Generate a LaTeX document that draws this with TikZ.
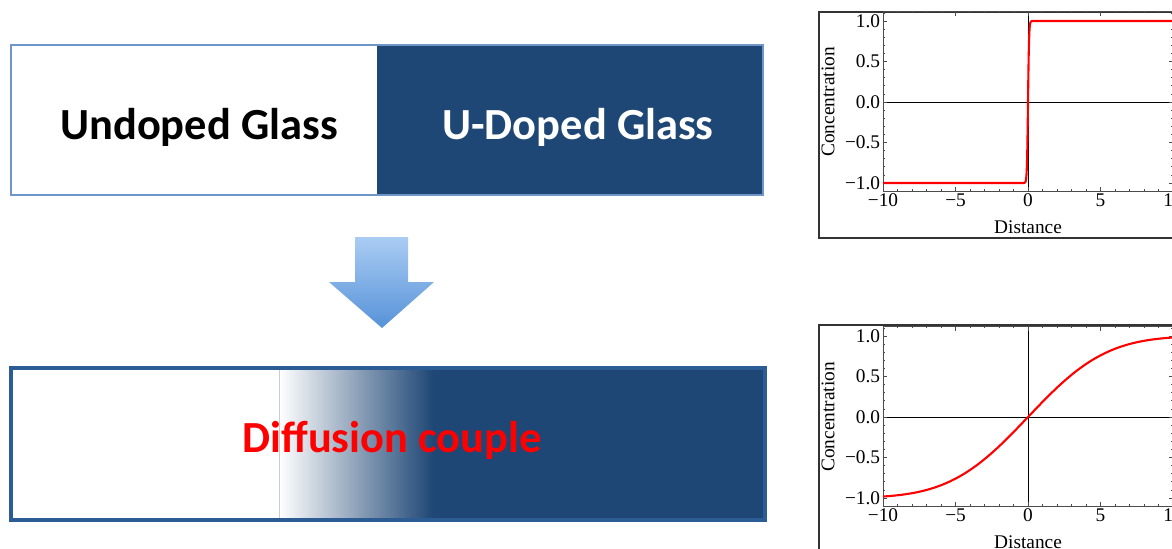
\documentclass[tikz,border=0pt]{standalone}
\usepackage{fontspec}
\setmainfont{Carlito}
\newfontfamily\plotfont{Liberation Serif}
\usepackage{xcolor}

\definecolor{glassblue}{RGB}{31,71,117}
\definecolor{frameblue}{RGB}{111,150,200}
\definecolor{darkframe}{RGB}{44,92,148}
\definecolor{arrowtop}{RGB}{170,204,243}
\definecolor{arrowbot}{RGB}{86,146,216}

\tikzset{
  boxtext/.style={font=\bfseries\fontsize{25.3}{30}\selectfont, inner sep=0pt},
  ticklabel/.style={font=\plotfont\fontsize{11}{13}\selectfont, inner sep=1.5pt},
  curve/.style={red, line width=1.2pt}
}

\begin{document}
\begin{tikzpicture}[x=0.02cm, y=-0.02cm]
  \useasboundingbox (0,0) rectangle (1172,548);

  % Before diffusion
  \fill[glassblue] (377,45) rectangle (763,195);
  \draw[frameblue, line width=1.6pt] (11,45) rectangle (763,195);
  \node[boxtext] (undoped) at (199,127) {Undoped Glass};
  \node[boxtext, white] (doped) at (578,127) {U-Doped Glass};

  % Arrow
  \shade[top color=arrowtop, bottom color=arrowbot]
    (355,237) -- (408,237) -- (408,282) -- (434,282) -- (382,328)
    -- (329,282) -- (355,282) -- cycle;

  % After diffusion
  \fill[glassblue] (432,368) rectangle (765,520);
  \shade[left color=white, right color=glassblue] (279,368) rectangle (433,520);
  \draw[gray!40, thin] (279,368) -- (279,520);
  \draw[darkframe, line width=1.8pt] (11,368) rectangle (765,520);
  \node[boxtext, red] (couple) at (392,440) {Diffusion couple};

  % Plot frames
  \draw[black!80, line width=0.8pt] (819,12) rectangle (1190,238);
  \draw[black!80, line width=0.8pt] (819,325) rectangle (1190,560);

  \foreach \yo/\nm in {102/a,417/b}{
    \begin{scope}[shift={(1028,\yo)}]
    \begin{scope}[x=0.29cm, y=1.62cm]
      \draw[black!70, line width=0.5pt] (-10,-1.1) rectangle (10,1.12);
      \draw[black, line width=0.4pt] (-10,0) -- (10,0);
      \draw[black, line width=0.4pt] (0,-1.1) -- (0,1.12);
      % ticks
      \foreach \t in {-10,-9,...,10}{
        \draw[black!70, line width=0.4pt] (\t,-1.1) -- ++(0pt,1.2pt);
        \draw[black!70, line width=0.4pt] (\t,1.12) -- ++(0pt,-1.2pt);
      }
      \foreach \t in {-10,-5,0,5,10}{
        \draw[black!70, line width=0.5pt] (\t,-1.1) -- ++(0pt,2.4pt);
        \draw[black!70, line width=0.5pt] (\t,1.12) -- ++(0pt,-2.4pt);
      }
      \foreach \t in {-1.1,-1.0,...,1.15}{
        \draw[black!70, line width=0.4pt] (-10,\t) -- ++(1.2pt,0pt);
        \draw[black!70, line width=0.4pt] (10,\t) -- ++(-1.2pt,0pt);
      }
      \foreach \t in {-1,-0.5,0,0.5,1}{
        \draw[black!70, line width=0.5pt] (-10,\t) -- ++(2.4pt,0pt);
        \draw[black!70, line width=0.5pt] (10,\t) -- ++(-2.4pt,0pt);
      }
      % tick labels
      \foreach \v/\lab in {1/1.0,0.5/0.5,0/0.0,-0.5/−0.5,-1/−1.0}
        \node[ticklabel, anchor=east] (\nm y\v) at (-10,\v) {\lab};
      \foreach \v/\lab in {-10/−10,-5/−5,0/0,5/5,10/10}
        \node[ticklabel, anchor=north] (\nm x\v) at (\v,-1.1) {\lab};
      \node[ticklabel] (\nm dist) at (0,-1.55) {Distance};
      \node[ticklabel, rotate=90] (\nm conc) at (-13.8,0) {Concentration};
    \end{scope}
    \end{scope}
  }

  % Curves
  \begin{scope}[shift={(1028,102)}]
  \begin{scope}[x=0.29cm, y=1.62cm]
    \draw[curve] plot[domain=-10:10, samples=801] (\x,{tanh(max(-6,min(6,14*\x)))});
  \end{scope}
  \end{scope}
  \begin{scope}[shift={(1028,417)}]
  \begin{scope}[x=0.29cm, y=1.62cm]
    % erf(x/6), tanh approximation
    \draw[curve] plot[domain=-10:10, samples=201, smooth]
      (\x,{tanh(1.1284*(\x/6 + 0.0894*(\x/6)^3))});
  \end{scope}
  \end{scope}
\end{tikzpicture}
\end{document}
